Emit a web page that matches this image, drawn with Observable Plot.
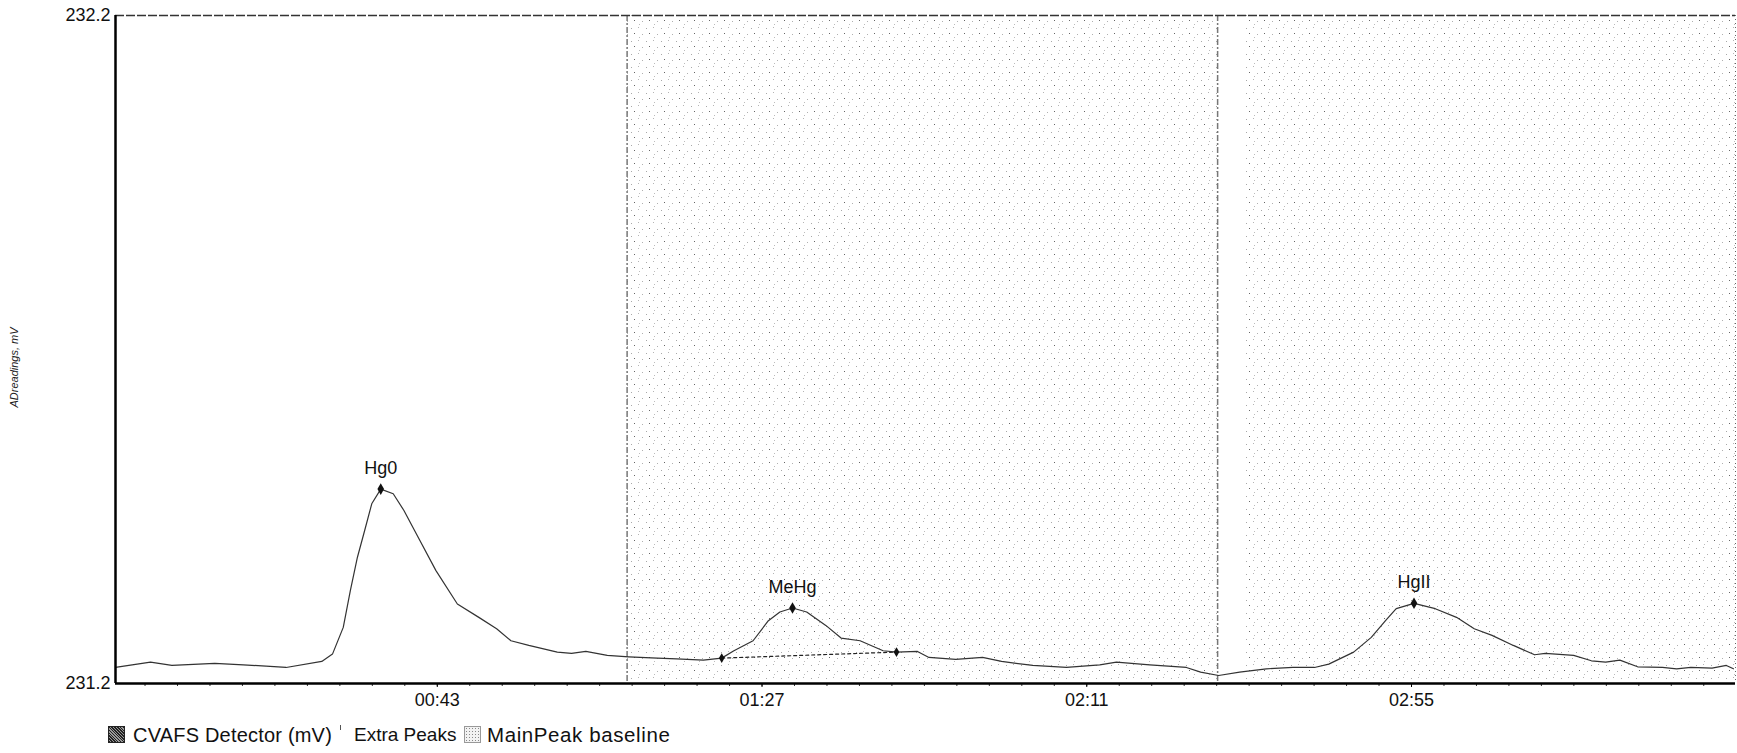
<!DOCTYPE html>
<html>
<head>
<meta charset="utf-8">
<script src="https://cdn.jsdelivr.net/npm/d3@7"></script>
<script src="https://cdn.jsdelivr.net/npm/@observablehq/plot@0.6"></script>
<style>
  html, body { margin: 0; padding: 0; background: #fff; }
  body { width: 1737px; height: 753px; overflow: hidden; font-family: "Liberation Sans", Arial, sans-serif; }
  #chart svg { display: block; }
  #legend { position: relative; height: 35px; width: 1737px; font-size: 20px; color: #111; }
  #legend .item { position: absolute; top: 6px; line-height: 22px; white-space: nowrap; }
  #legend .sw { position: absolute; top: 8px; width: 17px; height: 17px; box-sizing: border-box; }
  #legend .sw1 { border: 1px solid #222; background: repeating-linear-gradient(45deg, #222 0 1px, #999 1px 2px), #555; }
  #legend .sw2 { width: 3px; height: 5px; top: 7px; border-left: 1px solid #555; }
  #legend .sw3 { border: 1px solid #999; background-image: radial-gradient(#888 0.7px, transparent 0.8px); background-size: 3px 3px; background-color: #f2f2f2; }
</style>
</head>
<body>
<div id="chart"></div>
<div id="legend"></div>
<script>
// ---- data ----
const timeSec = [-0.6, 4.14, 7.04, 12.85, 16.72, 22.51, 27.35, 28.80, 30.26, 31.22,
  32.18, 33.16, 34.12, 35.34, 37.03, 38.48, 39.92, 42.82, 45.72, 48.63,
  51.04, 52.98, 55.40, 59.26, 61.19, 63.13, 66.03, 68.94, 72.80, 75.42,
  79.05, 81.54, 83.19, 85.79, 87.86, 89.42, 91.13, 93.05, 95.64, 97.71,
  100.29, 103.41, 105.22, 108.06, 109.62, 113.25, 116.88, 119.46, 123.69, 128.25,
  132.76, 135.02, 139.53, 144.50, 146.43, 148.87, 151.71, 155.33, 158.93, 161.86,
  163.79, 167.16, 169.55, 171.48, 172.93, 175.34, 178.22, 181.10, 183.50, 185.91,
  188.80, 191.68, 193.13, 196.97, 199.38, 201.31, 203.23, 205.64, 209.00, 210.92,
  212.84, 215.72, 217.66, 218.62];
const signalMv = [231.224, 231.232, 231.227, 231.230, 231.228, 231.224, 231.233, 231.244, 231.284, 231.339,
  231.389, 231.429, 231.469, 231.491, 231.484, 231.459, 231.429, 231.369, 231.319, 231.299,
  231.282, 231.264, 231.257, 231.247, 231.245, 231.248, 231.242, 231.240, 231.238, 231.237,
  231.235, 231.238, 231.249, 231.264, 231.294, 231.307, 231.313, 231.307, 231.287, 231.268,
  231.264, 231.249, 231.247, 231.248, 231.239, 231.236, 231.239, 231.233, 231.227, 231.224,
  231.228, 231.232, 231.228, 231.224, 231.217, 231.212, 231.217, 231.222, 231.224, 231.224,
  231.229, 231.247, 231.269, 231.294, 231.312, 231.320, 231.312, 231.299, 231.282, 231.272,
  231.257, 231.243, 231.245, 231.242, 231.234, 231.232, 231.235, 231.225, 231.224, 231.222,
  231.224, 231.223, 231.227, 231.222];

const peakNames = ["Hg0", "MeHg", "HgII"];
const peakTimes = [35.34, 91.13, 175.34];
const peakValues = [231.491, 231.313, 231.320];

const baselineTimes = [81.54, 105.22];
const baselineValues = [231.238, 231.247];

const windowStarts = [68.72, 152.4];
const windowEnds = [148.73, 218.9];
const dividerTimes = [68.72, 148.73];

const xTicks = [43, 87, 131, 175];
const yTicks = [231.2, 232.2];
const xDomain = [-0.6, 218.9];
const yDomain = [231.2, 232.2];
const yLabel = "ADreadings, mV";
const legendLabels = ["CVAFS Detector (mV)", "Extra Peaks", "MainPeak baseline"];

// ---- derived tables ----
const trace = timeSec.map((t, i) => ({t, v: signalMv[i]}));
const peaks = peakNames.map((name, i) => ({name, t: peakTimes[i], v: peakValues[i]}));
const baseline = baselineTimes.map((t, i) => ({t, v: baselineValues[i]}));
const windows = windowStarts.map((s, i) => ({x1: s, x2: windowEnds[i], y1: yDomain[0], y2: yDomain[1]}));
const minorTicks = d3.range(xTicks[0] - 44, xDomain[1], 4.4).filter(d => d > xDomain[0]);

const fmt = d => {
  const m = Math.floor(d / 60), s = Math.round(d % 60);
  return String(m).padStart(2, "0") + ":" + String(s).padStart(2, "0");
};

const chart = Plot.plot({
  width: 1737,
  height: 718,
  marginLeft: 115,
  marginRight: 2,
  marginTop: 15,
  marginBottom: 35,
  style: {fontFamily: "'Liberation Sans', Arial, sans-serif", background: "#fff", color: "#111", overflow: "visible"},
  x: {domain: xDomain},
  y: {domain: yDomain},
  marks: [
    Plot.rect(windows, {x1: "x1", x2: "x2", y1: "y1", y2: "y2", fill: "url(#stipple)"}),
    Plot.ruleX(dividerTimes, {stroke: "#777", strokeWidth: 1.5, strokeDasharray: "6,2,2,2"}),
    Plot.ruleY([yDomain[1]], {stroke: "#333", strokeWidth: 1.3, strokeDasharray: "9,2"}),
    Plot.ruleX([xDomain[1]], {stroke: "#666", strokeWidth: 1, strokeDasharray: "1,3"}),
    Plot.line(baseline, {x: "t", y: "v", stroke: "#222", strokeWidth: 1.2, strokeDasharray: "3,3"}),
    Plot.line(trace, {x: "t", y: "v", stroke: "#333", strokeWidth: 1.2}),
    Plot.dot(baseline, {x: "t", y: "v", symbol: "diamond", fill: "#111", r: 3}),
    Plot.dot(peaks, {x: "t", y: "v", symbol: "diamond", fill: "#111", r: 3.5}),
    Plot.text(peaks, {x: "t", y: "v", text: "name", dy: -21, fontSize: 18, fill: "#111"}),
    Plot.axisX(minorTicks, {tickSize: 3, tickFormat: () => "", stroke: "#333", label: null}),
    Plot.axisX({ticks: xTicks, tickFormat: fmt, tickSize: 4, tickPadding: 6, fontSize: 18, label: null, stroke: "#000"}),
    Plot.axisY({ticks: yTicks, tickFormat: ".1f", tickSize: 0, tickPadding: 5, fontSize: 18, label: null}),
    Plot.text([yLabel], {frameAnchor: "left", textAnchor: "middle", dx: -101, dy: 18, rotate: -90, fontSize: 11, fontStyle: "italic", fill: "#222"}),
    Plot.ruleY([yDomain[0]], {stroke: "#000", strokeWidth: 2.5}),
    Plot.ruleX([xDomain[0]], {stroke: "#000", strokeWidth: 2.5})
  ]
});

// stipple pattern for the shaded windows
const ns = "http://www.w3.org/2000/svg";
const defs = document.createElementNS(ns, "defs");
const pat = document.createElementNS(ns, "pattern");
pat.setAttribute("id", "stipple");
pat.setAttribute("patternUnits", "userSpaceOnUse");
pat.setAttribute("width", 15);
pat.setAttribute("height", 13);
[[1, 2, "#a8a8a8"], [8, 1, "#b4b4b4"], [4, 7, "#666"], [12, 8, "#b0b0b0"], [9, 11, "#bcbcbc"]].forEach(([x, y, c]) => {
  const r = document.createElementNS(ns, "rect");
  r.setAttribute("x", x); r.setAttribute("y", y);
  r.setAttribute("width", 1); r.setAttribute("height", 1);
  r.setAttribute("fill", c);
  pat.appendChild(r);
});
defs.appendChild(pat);
chart.insertBefore(defs, chart.firstChild);

document.getElementById("chart").appendChild(chart);

// legend
const legend = document.getElementById("legend");
const items = [
  {cls: "sw sw1", left: 108, textLeft: 133, label: legendLabels[0], size: 20, ls: 0.2},
  {cls: "sw sw2", left: 340, textLeft: 354, label: legendLabels[1], size: 19, ls: 0},
  {cls: "sw sw3", left: 464, textLeft: 487, label: legendLabels[2], size: 20.5, ls: 0.6}
];
items.forEach(it => {
  const sw = document.createElement("span");
  sw.className = it.cls;
  sw.style.left = it.left + "px";
  legend.appendChild(sw);
  const tx = document.createElement("span");
  tx.className = "item";
  tx.style.left = it.textLeft + "px";
  tx.style.fontSize = it.size + "px";
  tx.style.letterSpacing = it.ls + "px";
  tx.textContent = it.label;
  legend.appendChild(tx);
});
</script>
</body>
</html>
